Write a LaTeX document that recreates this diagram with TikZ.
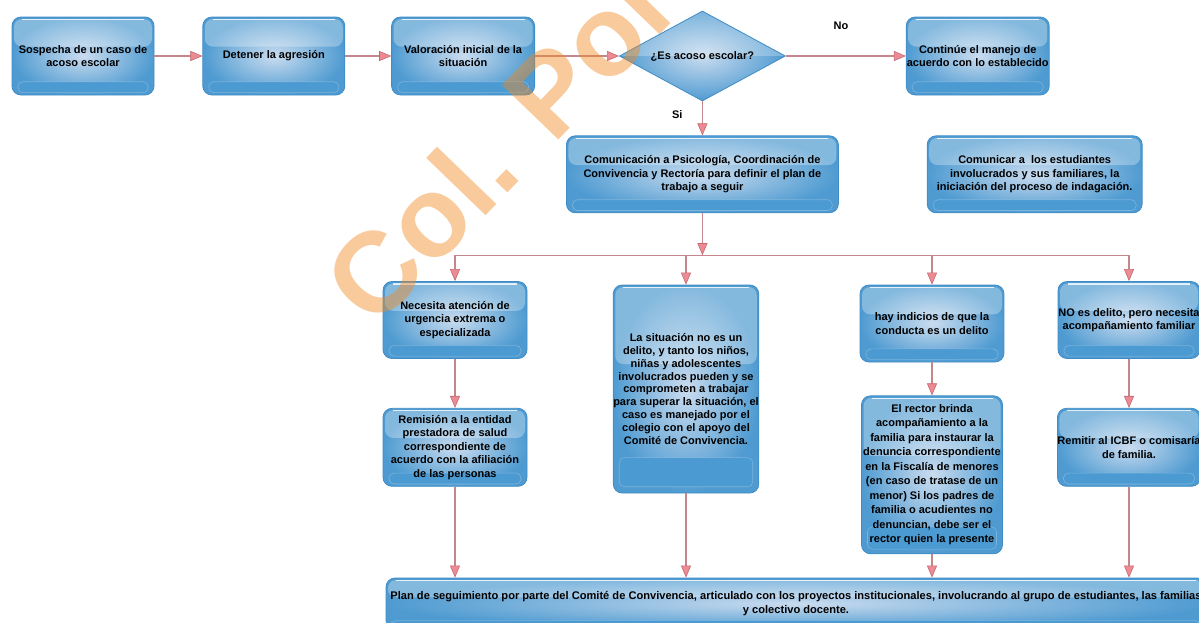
\documentclass[tikz,border=0pt]{standalone}
\usepackage{fontspec}
\setmainfont{Liberation Sans}
\usepackage{tikz}
\usetikzlibrary{shapes.geometric}
\usetikzlibrary{positioning}
\usetikzlibrary{calc}
\usetikzlibrary{arrows.meta}

\definecolor{boxdark}{HTML}{4F9BD1}
\definecolor{boxlight}{HTML}{CADCEF}
\definecolor{boxedge}{HTML}{3F8CC6}
\definecolor{boxband}{HTML}{4C9AD2}
\definecolor{linecol}{HTML}{C4878C}
\definecolor{tipfill}{HTML}{EC8B93}
\definecolor{tipedge}{HTML}{C56870}
\definecolor{markcol}{HTML}{F08A24}

\begin{document}
\begin{tikzpicture}[x=1pt, y=-1pt,
        box/.style={rectangle, rounded corners=9pt, draw=boxedge, line width=0.8pt,
            inner color=boxlight, outer color=boxdark, align=center, inner sep=0pt,
            minimum width=142pt, minimum height=78pt,
            font=\bfseries\fontsize{11}{13.5}\selectfont,
            path picture={
                \fill[white, opacity=0.3, rounded corners=8pt]
                    ([shift={(2pt,-2pt)}]path picture bounding box.north west) rectangle
                    ($(path picture bounding box.north east)!0.38!(path picture bounding box.south east) + (-2pt,0pt)$);
                \draw[white, opacity=0.8, line width=1.2pt]
                    ([shift={(10pt,-2.5pt)}]path picture bounding box.north west) --
                    ([shift={(-10pt,-2.5pt)}]path picture bounding box.north east);
                \filldraw[fill=boxband, draw=white, draw opacity=0.25, line width=0.6pt, rounded corners=5pt]
                    ($(path picture bounding box.north west)!0.83!(path picture bounding box.south west) + (6pt,0pt)$) rectangle
                    ($(path picture bounding box.north east)!0.97!(path picture bounding box.south east) + (-6pt,0pt)$);
            }},
        decision/.style={diamond, shape aspect=1.85, draw=boxedge, line width=0.8pt,
            inner color=boxlight, outer color=boxdark, inner sep=0pt,
            minimum width=166pt, minimum height=90pt,
            font=\bfseries\fontsize{11}{13.5}\selectfont,
            path picture={
                \fill[white, opacity=0.25]
                    (path picture bounding box.north west) rectangle (path picture bounding box.east);
            }},
        flow/.style={draw=linecol, line width=1.3pt,
            -{Triangle[length=12pt, width=10pt, color=tipedge, fill=tipfill, line width=0.6pt]}},
        lab/.style={font=\bfseries\fontsize{11}{13.5}\selectfont}]

        \useasboundingbox (0,0) rectangle (1199,622);

        \node[box] (sospecha) at (83,56) {Sospecha de un caso de\\acoso escolar};
        \node[box] (detener) [right=48pt of sospecha] {Detener la agresión};
        \node[box, minimum width=143pt] (valoracion) [right=46pt of detener] {Valoración inicial de la\\situación};
        \node[decision] (pregunta) [right=84pt of valoracion] {¿Es acoso escolar?};
        \node[box, minimum width=143pt] (continue) [right=120pt of pregunta] {Continúe el manejo de\\acuerdo con lo establecido};

        \node[box, minimum width=272pt, minimum height=77pt] (comunicacion) [below=34pt of pregunta] {Comunicación a Psicología, Coordinación de\\Convivencia y Rectoría para definir el plan de\\trabajo a seguir};
        \node[box, minimum width=215pt, minimum height=77pt] (comunicar) [right=88pt of comunicacion] {Comunicar a\ \ los estudiantes\\involucrados y sus familiares, la\\iniciación del proceso de indagación.};
        \coordinate[below=42pt of comunicacion] (reparto);

        \node[box, minimum width=144pt, minimum height=77pt] (urgencia) at (455,320) {Necesita atención de\\urgencia extrema o\\especializada};
        \node[box, minimum width=145pt, minimum height=208pt, font=\bfseries\fontsize{11}{12.9}\selectfont] (nodelito) at (686,389) {La situación no es un\\delito, y tanto los niños,\\niñas y adolescentes\\involucrados pueden y se\\comprometen a trabajar\\para superar la situación, el\\caso es manejado por el\\colegio con el apoyo del\\Comité de Convivencia.};
        \node[box, minimum width=144pt, minimum height=77pt] (indicios) at (932,323.5) {hay indicios de que la\\conducta es un delito};
        \node[box, minimum height=77pt] (familiar) at (1129,320) {NO es delito, pero necesita\\acompañamiento familiar};

        \node[box, minimum width=144pt] (remision) [below=49pt of urgencia] {Remisión a la entidad\\prestadora de salud\\correspondiente de\\acuerdo con la afiliación\\de las personas};
        \node[box, minimum width=141pt, minimum height=158pt, font=\bfseries\fontsize{11}{14.5}\selectfont] (rector) [below=33pt of indicios] {El rector brinda\\acompañamiento a la\\familia para instaurar la\\denuncia correspondiente\\en la Fiscalía de menores\\(en caso de tratase de un\\menor) Si los padres de\\familia o acudientes no\\denuncian, debe ser el\\rector quien la presente};
        \node[box] (icbf) [below=49pt of familiar] {Remitir al ICBF o comisaría\\de familia.};

        \node[box, minimum width=820pt, minimum height=51pt, font=\bfseries\fontsize{11.1}{13.5}\selectfont] (plan) at (796,603.5) {Plan de seguimiento por parte del Comité de Convivencia, articulado con los proyectos institucionales, involucrando al grupo de estudiantes, las familias\\y colectivo docente.};

        \draw[flow] (sospecha) -- (detener);
        \draw[flow] (detener) -- (valoracion);
        \draw[flow] (valoracion) -- (pregunta);
        \draw[flow] (pregunta) -- node[lab, pos=0.46, above=22pt] (no) {No} (continue);
        \draw[flow] (pregunta) -- node[lab, pos=0.4, left=16pt] (si) {Si} (comunicacion);
        \draw[flow] (comunicacion) -- (reparto);

        \draw[flow] (reparto) -| (urgencia);
        \draw[flow] (reparto) -| (nodelito);
        \draw[flow] (reparto) -| (indicios);
        \draw[flow] (reparto) -| (familiar);

        \draw[flow] (urgencia) -- (remision);
        \draw[flow] (indicios) -- (rector);
        \draw[flow] (familiar) -- (icbf);

        \draw[flow] (remision) -- (remision.south |- plan.north);
        \draw[flow] (nodelito) -- (nodelito.south |- plan.north);
        \draw[flow] (rector) -- (rector.south |- plan.north);
        \draw[flow] (icbf) -- (icbf.south |- plan.north);

        \node[rotate=46, text=markcol, opacity=0.45, font=\bfseries\fontsize{114}{114}\selectfont] (marca) at (514,128) {Col. Port};
    \end{tikzpicture}
\end{document}
